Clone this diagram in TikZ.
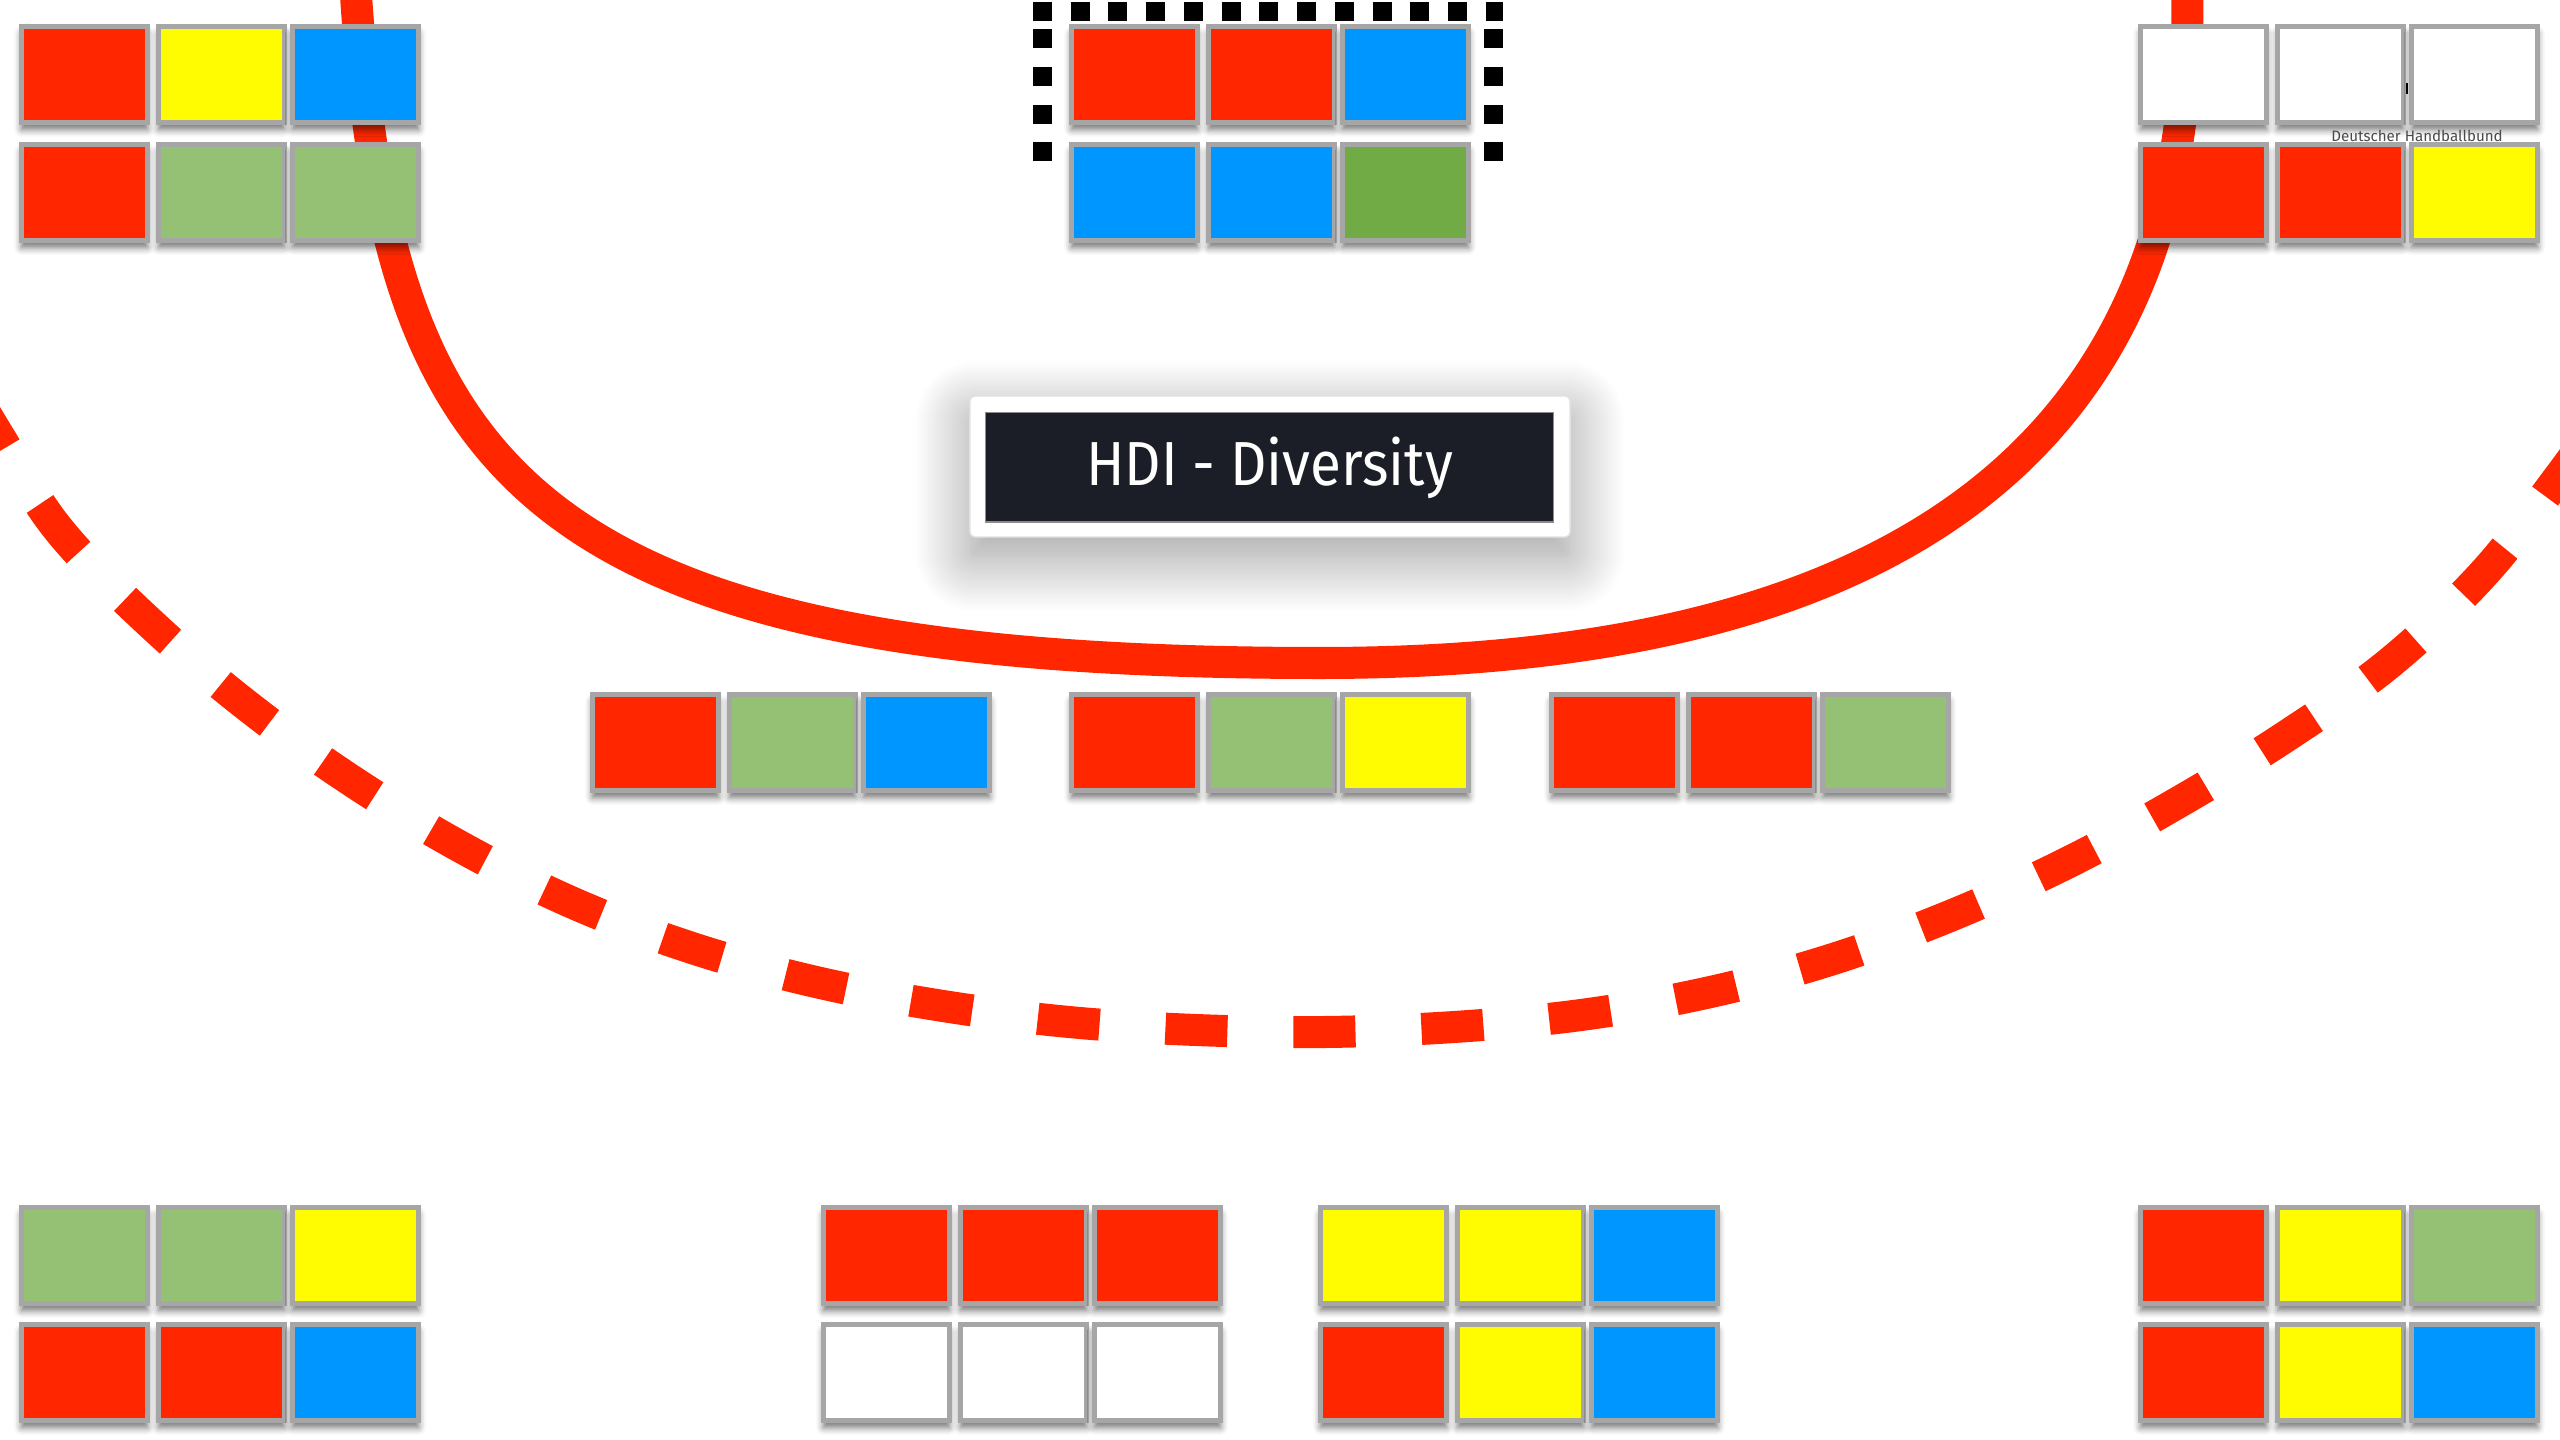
\documentclass[tikz,border=0pt]{standalone}
\usepackage{fontspec}
\setmainfont{Fira Sans}
\newfontfamily\titlefont[FakeStretch=0.91]{Fira Sans}
\usetikzlibrary{shadows.blur}

\definecolor{hred}{HTML}{FF2600}
\definecolor{hyellow}{HTML}{FFFB00}
\definecolor{hblue}{HTML}{0096FF}
\definecolor{hgreen}{HTML}{94C173}
\definecolor{hdkgreen}{HTML}{70AB46}
\definecolor{tileborder}{HTML}{A6A6A6}
\definecolor{titlebg}{HTML}{1C1E27}
\definecolor{dhbgray}{HTML}{4A4A4A}

\begin{document}
\begin{tikzpicture}[x=0.01cm, y=-0.01cm,
                       tile/.style={rectangle,draw=tileborder,line width=0.05cm,
                                    inner sep=0pt,outer sep=0pt,
                                    minimum width=1.26cm,minimum height=0.96cm,
                                    blur shadow={shadow xshift=0cm,shadow yshift=-0.07cm,
                                                 shadow blur radius=0.07cm,shadow opacity=55}},
                       red tile/.style={tile,fill=hred},
                       yellow tile/.style={tile,fill=hyellow},
                       blue tile/.style={tile,fill=hblue},
                       green tile/.style={tile,fill=hgreen},
                       dark green tile/.style={tile,fill=hdkgreen},
                       white tile/.style={tile,fill=white},
                       ring/.style={draw=hred,line width=0.32cm},
                       dashed ring/.style={draw=hred,line width=0.32cm,
                                           dash pattern=on 0.62cm off 0.66cm,dash phase=1.0cm},
                       dotted frame/.style={draw=black,line width=0.19cm,
                                            dash pattern=on 0.19cm off 0.187cm},
                       frame/.style={rectangle,fill=white,draw=black!12,rounded corners=0.05cm,
                                     minimum width=6.0cm,minimum height=1.41cm,
                                     blur shadow={shadow xshift=0cm,shadow yshift=-0.2cm,
                                                  shadow blur radius=0.55cm,shadow blur steps=30,
                                                  shadow opacity=40}},
                       title/.style={rectangle,fill=titlebg,draw=black!45,line width=0.3pt,
                                     minimum width=5.67cm,minimum height=1.09cm,inner sep=0pt,
                                     text=white,font=\titlefont\fontsize{17.7}{20}\selectfont},
                       dhb label/.style={inner sep=0pt,text=dhbgray,
                                         font=\fontsize{4.3}{5}\selectfont}
                      ]
   \useasboundingbox (0,0) rectangle (2560,1440);
   \clip (0,0) rectangle (2560,1440);

   % red lines behind everything
   \draw[dashed ring] plot[smooth,tension=0.6] coordinates {(-40,370) (0,438) (59,530)
      (148,621) (245,704) (349,779) (459,846) (573,903) (692,948) (816,982)
      (943,1006) (1069,1022) (1196,1030) (1325,1032) (1454,1027) (1581,1015)
      (1706,993) (1830,960) (1950,916) (2067,863) (2179,802) (2288,735)
      (2392,661) (2485,572) (2560,476) (2600,420)};
   \draw[ring] (355,-20) .. controls (385,470) and (520,663) .. (1320,663)
                         .. controls (1750,663) and (2203,545) .. (2187,-20);

   \draw[dotted frame] (1042,161.5) -- (1042,29) (1033,12) -- (1503,12)
                       (1493,161.5) -- (1493,29);

   % top row
   \node[red tile] (tl1) at (84.5,74.5) {};
   \node[yellow tile] (tl2) at (221.5,74.5) {};
   \node[blue tile] (tl3) at (355.5,74.5) {};
   \node[red tile] (tl4) at (84.5,192.5) {};
   \node[green tile] (tl5) at (221.5,192.5) {};
   \node[green tile] (tl6) at (355.5,192.5) {};

   \node[red tile] (tc1) at (1134.5,74.5) {};
   \node[red tile] (tc2) at (1271.5,74.5) {};
   \node[blue tile] (tc3) at (1405.5,74.5) {};
   \node[blue tile] (tc4) at (1134.5,192.5) {};
   \node[blue tile] (tc5) at (1271.5,192.5) {};
   \node[dark green tile] (tc6) at (1405.5,192.5) {};

   \node[white tile] (tr1) at (2203.5,74.5) {};
   \node[white tile] (tr2) at (2340.5,74.5) {};
   \node[white tile] (tr3) at (2474.5,74.5) {};
   \node[red tile] (tr4) at (2203.5,192.5) {};
   \node[red tile] (tr5) at (2340.5,192.5) {};
   \node[yellow tile] (tr6) at (2474.5,192.5) {};
   \node[dhb label] (dhb) at (2417,136) {Deutscher Handballbund};
   \draw[line width=0.02cm] (2407,83) -- (2407,94);

   % middle row
   \node[red tile] (ml1) at (655.5,742.5) {};
   \node[green tile] (ml2) at (792.5,742.5) {};
   \node[blue tile] (ml3) at (926.5,742.5) {};
   \node[red tile] (mc1) at (1134.5,742.5) {};
   \node[green tile] (mc2) at (1271.5,742.5) {};
   \node[yellow tile] (mc3) at (1405.5,742.5) {};
   \node[red tile] (mr1) at (1614.5,742.5) {};
   \node[red tile] (mr2) at (1751.5,742.5) {};
   \node[green tile] (mr3) at (1885.5,742.5) {};

   % bottom row
   \node[green tile] (bl1) at (84.5,1255.5) {};
   \node[green tile] (bl2) at (221.5,1255.5) {};
   \node[yellow tile] (bl3) at (355.5,1255.5) {};
   \node[red tile] (bl4) at (84.5,1372.5) {};
   \node[red tile] (bl5) at (221.5,1372.5) {};
   \node[blue tile] (bl6) at (355.5,1372.5) {};

   \node[red tile] (bc1) at (886.5,1255.5) {};
   \node[red tile] (bc2) at (1023.5,1255.5) {};
   \node[red tile] (bc3) at (1157.5,1255.5) {};
   \node[white tile] (bc4) at (886.5,1372.5) {};
   \node[white tile] (bc5) at (1023.5,1372.5) {};
   \node[white tile] (bc6) at (1157.5,1372.5) {};

   \node[yellow tile] (bd1) at (1383.5,1255.5) {};
   \node[yellow tile] (bd2) at (1520.5,1255.5) {};
   \node[blue tile] (bd3) at (1654.5,1255.5) {};
   \node[red tile] (bd4) at (1383.5,1372.5) {};
   \node[yellow tile] (bd5) at (1520.5,1372.5) {};
   \node[blue tile] (bd6) at (1654.5,1372.5) {};

   \node[red tile] (br1) at (2203.5,1255.5) {};
   \node[yellow tile] (br2) at (2340.5,1255.5) {};
   \node[green tile] (br3) at (2474.5,1255.5) {};
   \node[red tile] (br4) at (2203.5,1372.5) {};
   \node[yellow tile] (br5) at (2340.5,1372.5) {};
   \node[blue tile] (br6) at (2474.5,1372.5) {};

   % title
   \node[frame] (frame) at (1270,466.5) {};
   \node[title] (hdi) at (1269.5,467.5) {HDI - Diversity};
\end{tikzpicture}
\end{document}
